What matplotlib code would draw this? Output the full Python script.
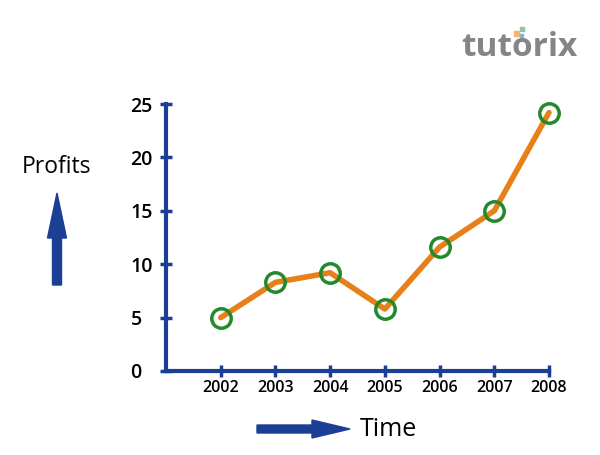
import matplotlib
matplotlib.use("Agg")
import matplotlib.pyplot as plt
import matplotlib.patches as mpatches
from matplotlib.transforms import IdentityTransform

years = [2002, 2003, 2004, 2005, 2006, 2007, 2008]
profits = [5.0, 8.3, 9.2, 5.8, 11.6, 15.0, 24.2]
yticks = [0, 5, 10, 15, 20, 25]

BLUE = "#1b3f95"
ORANGE = "#e8801a"
GREEN = "#23892a"
FONT = "Open Sans"

fig = plt.figure(figsize=(6, 4.55), dpi=100)
ax = fig.add_axes([166/600, 84/455, (549-166)/600, (371-104)/455])

ax.plot(years, profits, color=ORANGE, lw=4, solid_capstyle="round", zorder=2,
        clip_on=False)
ax.plot(years, profits, ls="none", marker="o", ms=14, mfc="none",
        mec=GREEN, mew=2.5, zorder=3, clip_on=False)

ax.set_xlim(2001, 2008)
ax.set_ylim(0, 25)
for s in ["top", "right"]:
    ax.spines[s].set_visible(False)
for s in ["left", "bottom"]:
    ax.spines[s].set_color(BLUE)
    ax.spines[s].set_linewidth(3)

ax.set_xticks(years)
ax.set_xticklabels([str(y) for y in years], fontsize=11.5, fontfamily=FONT,
                   fontweight="semibold")
ax.set_yticks(yticks)
ax.set_yticklabels([str(v) for v in yticks], fontsize=14, fontfamily=FONT,
                   fontweight="semibold", ha="left")
ax.tick_params(axis="both", direction="inout", length=9, width=2.5, color=BLUE)
ax.tick_params(axis="y", pad=21)
ax.tick_params(axis="x", pad=2)

fig.text(22/600, 1-167/455, "Profits", fontsize=16.5, fontfamily=FONT,
         va="center", ha="left")
fig.text(360/600, 1-430/455, "Time", fontsize=18, fontfamily=FONT,
         va="center", ha="left")

up = mpatches.FancyArrow(57, 455-285, 0, 92, width=9, head_width=19,
                         head_length=45, length_includes_head=True,
                         color=BLUE, transform=IdentityTransform())
right = mpatches.FancyArrow(257, 455-429, 93, 0, width=8, head_width=18,
                            head_length=38, length_includes_head=True,
                            color=BLUE, transform=IdentityTransform())
fig.patches.extend([up, right])

fig.text(461/600, 1-47/455, "tutorix", fontsize=24, fontfamily=FONT,
         fontweight="bold", color="#858585", va="center", ha="left")
fig.patches.append(mpatches.Rectangle((514, 455-36), 5, 5, color="#f5b26b",
                                      transform=IdentityTransform()))
fig.patches.append(mpatches.Rectangle((520, 455-31), 4, 4, color="#8cc7a0",
                                      transform=IdentityTransform()))
fig.patches.append(mpatches.Rectangle((520, 455-37), 3, 3, color="#7fb2e0",
                                      transform=IdentityTransform()))

fig.savefig("out.png", dpi=100)
